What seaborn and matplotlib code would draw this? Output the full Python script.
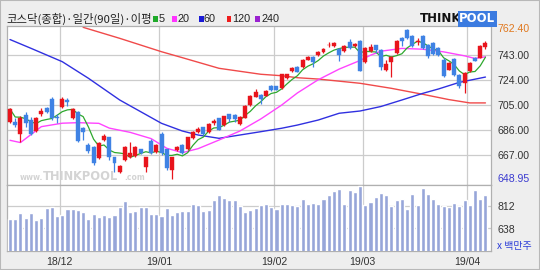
import numpy as np
import pandas as pd
import matplotlib
matplotlib.use("Agg")
import matplotlib.pyplot as plt
import seaborn as sns
from matplotlib.patches import Rectangle
from matplotlib.transforms import blended_transform_factory

# ---------------- data ----------------
opens = [692.3, 692.3, 683.0, 697.4, 693.6, 685.3, 697.9, 702.4, 709.4, 696.1,
         703.6, 708.7, 694.9, 699.9, 687.4, 674.8, 673.0, 664.7, 678.5, 680.6,
         665.5, 654.6, 663.5, 666.0, 666.5, 671.5, 658.4, 678.0, 669.7, 683.0,
         671.5, 655.9, 671.0, 674.8, 671.5, 680.0, 684.8, 688.1, 684.5, 691.4,
         695.0, 689.6, 697.9, 697.6, 690.3, 695.4, 705.0, 711.2, 712.5, 712.0,
         719.2, 719.0, 717.5, 725.0, 730.6, 733.8, 733.8, 739.0, 741.4, 742.6,
         745.1, 749.8, 749.2, 747.4, 745.6, 752.7, 749.2, 753.5, 737.0, 745.4,
         750.0, 746.5, 731.6, 737.6, 744.2, 755.5, 761.7, 756.7, 752.5, 756.7,
         750.4, 751.7, 748.0, 739.1, 731.6, 739.9, 727.8, 721.5, 730.3, 740.4,
         740.4, 748.4]
closes = [701.9, 689.8, 695.5, 691.1, 683.0, 695.4, 700.6, 699.9, 694.9, 694.9,
          709.2, 707.4, 701.7, 677.8, 684.8, 670.5, 661.0, 676.0, 681.5, 666.0,
          661.0, 658.9, 673.0, 668.5, 673.0, 668.5, 665.5, 668.5, 674.8, 668.5,
          657.2, 665.5, 673.0, 668.5, 680.6, 684.8, 687.0, 683.0, 690.5, 692.7,
          686.2, 696.4, 694.4, 694.0, 696.1, 704.4, 712.0, 715.0, 709.5, 715.5,
          716.2, 716.3, 728.0, 728.0, 732.6, 730.0, 738.8, 741.4, 737.1, 745.1,
          747.1, 750.5, 751.7, 742.9, 749.7, 747.6, 751.0, 730.8, 747.9, 748.4,
          746.5, 733.5, 735.9, 741.4, 753.5, 753.5, 755.5, 749.2, 753.5, 747.9,
          741.6, 743.4, 743.0, 726.6, 736.6, 727.8, 719.0, 729.1, 736.6, 738.4,
          749.2, 751.7]
highs = [703.0, 695.0, 697.0, 700.0, 696.0, 696.0, 703.0, 703.5, 711.2, 697.9,
         711.2, 710.4, 702.5, 700.5, 688.6, 676.0, 674.0, 677.0, 683.0, 681.0,
         666.0, 659.5, 674.0, 677.3, 674.0, 672.0, 666.0, 679.0, 675.5, 684.5,
         672.0, 666.0, 674.0, 675.5, 681.0, 685.5, 688.5, 688.5, 691.0, 694.0,
         695.5, 697.0, 698.5, 698.0, 696.6, 705.0, 712.5, 717.0, 713.0, 716.0,
         719.8, 719.5, 728.5, 728.5, 733.5, 734.5, 739.5, 742.0, 742.0, 746.0,
         748.0, 752.5, 752.5, 748.0, 750.5, 754.5, 752.0, 754.2, 748.5, 751.0,
         750.5, 747.0, 739.0, 742.0, 754.0, 756.5, 762.4, 757.5, 755.5, 757.5,
         751.0, 752.5, 748.5, 740.0, 737.2, 740.5, 728.5, 729.8, 737.2, 741.0,
         750.0, 753.5]
lows = [691.5, 688.0, 677.0, 688.6, 682.3, 684.8, 697.0, 699.0, 693.6, 691.1,
        703.0, 704.4, 694.0, 677.0, 678.5, 669.0, 660.0, 664.0, 678.0, 663.5,
        654.6, 654.0, 663.0, 665.0, 666.0, 668.0, 654.6, 668.0, 669.0, 667.5,
        656.0, 648.95, 670.0, 668.0, 671.0, 679.5, 684.0, 682.5, 684.0, 690.0,
        686.0, 689.0, 692.0, 692.0, 689.8, 695.0, 704.5, 710.8, 706.0, 711.5,
        715.8, 716.0, 717.0, 724.5, 730.0, 729.5, 733.0, 738.5, 733.5, 742.0,
        744.5, 749.0, 748.8, 738.0, 745.0, 747.0, 748.5, 730.3, 736.5, 745.0,
        744.0, 731.0, 730.3, 726.3, 743.5, 749.2, 755.0, 748.5, 750.5, 747.0,
        740.0, 743.0, 742.0, 726.0, 731.0, 727.0, 718.0, 714.0, 729.8, 737.8,
        740.0, 747.5]
volumes = [713, 713, 755, 721, 755, 700, 721, 797, 804, 737,
           744, 789, 789, 781, 765, 713, 750, 729, 742, 729,
           742, 807, 848, 763, 773, 807, 807, 747, 752, 734,
           794, 744, 763, 773, 773, 828, 817, 776, 781, 856,
           898, 877, 856, 856, 809, 768, 781, 794, 820, 825,
           807, 786, 825, 830, 820, 812, 864, 830, 835, 830,
           864, 900, 929, 945, 830, 937, 924, 968, 820, 843,
           885, 911, 898, 812, 856, 864, 791, 903, 820, 950,
           906, 864, 830, 812, 802, 835, 812, 859, 820, 937,
           869, 895]

ma20_idx = [0, 2, 6, 10, 13, 17, 19, 23, 27, 30, 33, 36, 40, 44, 48, 52, 55, 59,
            63, 67, 69, 71, 75, 79, 83, 87, 89, 91]
ma20_val = [678.3, 676.6, 688.6, 691.2, 691.6, 691.1, 687.5, 684.3, 679.6, 672.3,
            669.0, 672.0, 678.5, 685.3, 694.4, 704.9, 714.0, 724.0, 732.0, 738.5,
            742.5, 745.5, 747.6, 747.0, 745.0, 742.0, 740.0, 741.3]
ma60_idx = [0, 4, 10, 15, 21, 25, 29, 33, 36, 40, 44, 48, 52, 55, 59, 63, 67, 71,
            75, 79, 82, 86, 91]
ma60_val = [754.3, 747.7, 737.6, 725.1, 708.7, 699.9, 691.1, 685.3, 682.3, 679.8,
            682.3, 684.8, 687.4, 689.8, 693.6, 698.7, 700.4, 703.8, 708.7, 713.7,
            717.0, 722.0, 726.0]
ma120_idx = [14, 21, 29, 33, 40, 48, 52, 55, 59, 67, 73, 79, 84, 88, 91]
ma120_val = [763.5, 755.2, 745.1, 740.6, 732.6, 728.1, 727.0, 725.5, 724.5, 721.3,
             717.5, 713.0, 709.0, 706.5, 706.5]

month_pos = [9.5, 28.5, 50.5, 67.5, 87.5]
month_labels = ["18/12", "19/01", "19/02", "19/03", "19/04"]
price_ticks = [743.00, 724.00, 705.00, 686.00, 667.00]
price_max, price_min = 762.40, 648.95
vol_ticks = [812, 638]

title_text = "코스닥(종합)·일간(90일)·이평"
legend_labels = ["5", "20", "60", "120", "240"]
legend_colors = ["#1faa2a", "#ff33ff", "#1a1ad6", "#ee1c1c", "#9a22d0"]

# ---------------- style ----------------
sns.set_theme(style="white")
plt.rcParams['font.family'] = ['Noto Sans CJK KR', 'DejaVu Sans']

W, H = 540, 270
fig = plt.figure(figsize=(5.4, 2.7), dpi=100, facecolor='#eeeeee')
fx = lambda px: px / W
fy = lambda py: 1 - py / H

L, R = 7, 491
axp = fig.add_axes([fx(L), fy(185), (R - L) / W, (185 - 26) / H])
axv = fig.add_axes([fx(L), fy(251), (R - L) / W, (251 - 185) / H])

n = len(closes)
idx = np.arange(n)
o = np.array(opens); c = np.array(closes)
hi = np.array(highs); lo = np.array(lows)
up = c >= o
UP, DN = '#e8141c', '#3f82e4'
GRID = '#cccccc'

for ax in (axp, axv):
    ax.set_facecolor('white')
    for s in ax.spines.values():
        s.set_color('#b0b0b0'); s.set_linewidth(0.9)
    ax.set_xticks([]); ax.set_yticks([])
    for m in month_pos:
        ax.axvline(m, color=GRID, lw=0.9, zorder=0)

for t in price_ticks:
    axp.axhline(t, color=GRID, lw=0.9, zorder=0)
for t in vol_ticks:
    axv.axhline(t, color=GRID, lw=0.9, zorder=0)

# watermark
wm = dict(transform=axp.transAxes, color='#d4d4d4', family='DejaVu Sans',
          fontweight='bold', zorder=0.5, va='baseline', ha='left')
axp.text((20 - L) / (R - L), 0.03, "www.", fontsize=5.5, **wm)
axp.text((43 - L) / (R - L), 0.03, "THINKPOOL", fontsize=8.3, **wm)
axp.text((124 - L) / (R - L), 0.03, ".com", fontsize=5.5, **wm)

# moving averages
ma5 = pd.Series(c).rolling(5, min_periods=1).mean()
sns.lineplot(x=ma120_idx, y=ma120_val, ax=axp, color='#f04a4a', lw=1.0, zorder=2)
sns.lineplot(x=ma60_idx, y=ma60_val, ax=axp, color='#3030e0', lw=1.0, zorder=2)
sns.lineplot(x=ma20_idx, y=ma20_val, ax=axp, color='#ff44ff', lw=1.0, zorder=2)
sns.lineplot(x=idx, y=ma5.values, ax=axp, color='#2ea82e', lw=0.9, zorder=2)

# candles
cols = np.where(up, UP, DN)
axp.vlines(idx, lo, hi, colors=cols, lw=0.9, zorder=3)
body_h = np.maximum(np.abs(c - o), 0.7)
body_b = np.minimum(o, c)
axp.bar(idx, body_h, bottom=body_b, width=0.76, color=cols, edgecolor=cols,
        linewidth=0.3, zorder=4)

axp.set_xlim(-0.574, 92.06)
axp.set_ylim(644.6, 764.5)
axp.set_xlabel(''); axp.set_ylabel('')

# volume
sns.barplot(x=idx, y=volumes, ax=axv, native_scale=True, color='#97a6d9',
            saturation=1, width=0.78, zorder=3)
axv.set_xlim(-0.574, 92.06)
axv.set_ylim(461, 976)
axv.set_xticks([]); axv.set_yticks([])
axv.set_xlabel(''); axv.set_ylabel('')

# right-side labels
tp = blended_transform_factory(fig.transFigure, axp.transData)
lab_font = dict(family='Liberation Sans', fontsize=7.6)
axp.text(fx(497), price_max, f"{price_max:.2f}", transform=tp, va='center', ha='left',
         color='#e0781e', **lab_font)
for t in price_ticks:
    axp.text(fx(497), t - 0.9, f"{t:.2f}", transform=tp, va='center', ha='left',
             color='#333333', **lab_font)
axp.text(fx(497), price_min, f"{price_min:.2f}", transform=tp, va='center', ha='left',
         color='#3a3ad0', **lab_font)

tv = blended_transform_factory(fig.transFigure, axv.transData)
for t in vol_ticks:
    axv.text(fx(497), t - 10, f"{t}", transform=tv, va='center', ha='left',
             color='#333333', **lab_font)
fig.text(fx(497), fy(245.5), "x 백만주", color='#2b3cd8', fontsize=7.2, va='center', ha='left')

# month labels
tm = blended_transform_factory(axv.transData, fig.transFigure)
for m, lab in zip(month_pos, month_labels):
    axv.text(m, fy(262), lab, transform=tm, ha='center', va='center',
             color='#333333', **lab_font)

# title + legend
fig.text(fx(6), fy(19), title_text, fontsize=8.2, color='#222222', va='center', ha='left')
sq_x = [153.3, 172.3, 199.0, 226.7, 255.0]
lab_x = [158.5, 177.7, 204.0, 232.0, 262.0]
for sx, lx, lab, col in zip(sq_x, lab_x, legend_labels, legend_colors):
    fig.patches.append(Rectangle((fx(sx), fy(22)), 4.6 / W, 5.6 / H, transform=fig.transFigure,
                                 facecolor=col, edgecolor='none'))
    fig.text(fx(lx), fy(19), lab, fontsize=7.8, color='#222222', va='center', ha='left',
             family='Liberation Sans')

# logo
fig.text(fx(420), fy(19), "THINK", fontsize=8.5, fontweight='heavy', color='#111111',
         va='center', ha='left', family='DejaVu Sans')
fig.text(fx(459), fy(19), "POOL", fontsize=8.5, fontweight='bold', color='white',
         va='center', ha='left', family='DejaVu Sans',
         bbox=dict(boxstyle='square,pad=0.12', fc='#3b7be0', ec='none'))

fig.patches.append(Rectangle((0, 0), 1, 1, transform=fig.transFigure, fill=False,
                             edgecolor='#b8b8b8', lw=1.5))

fig.savefig('out.png', dpi=100, facecolor=fig.get_facecolor())
